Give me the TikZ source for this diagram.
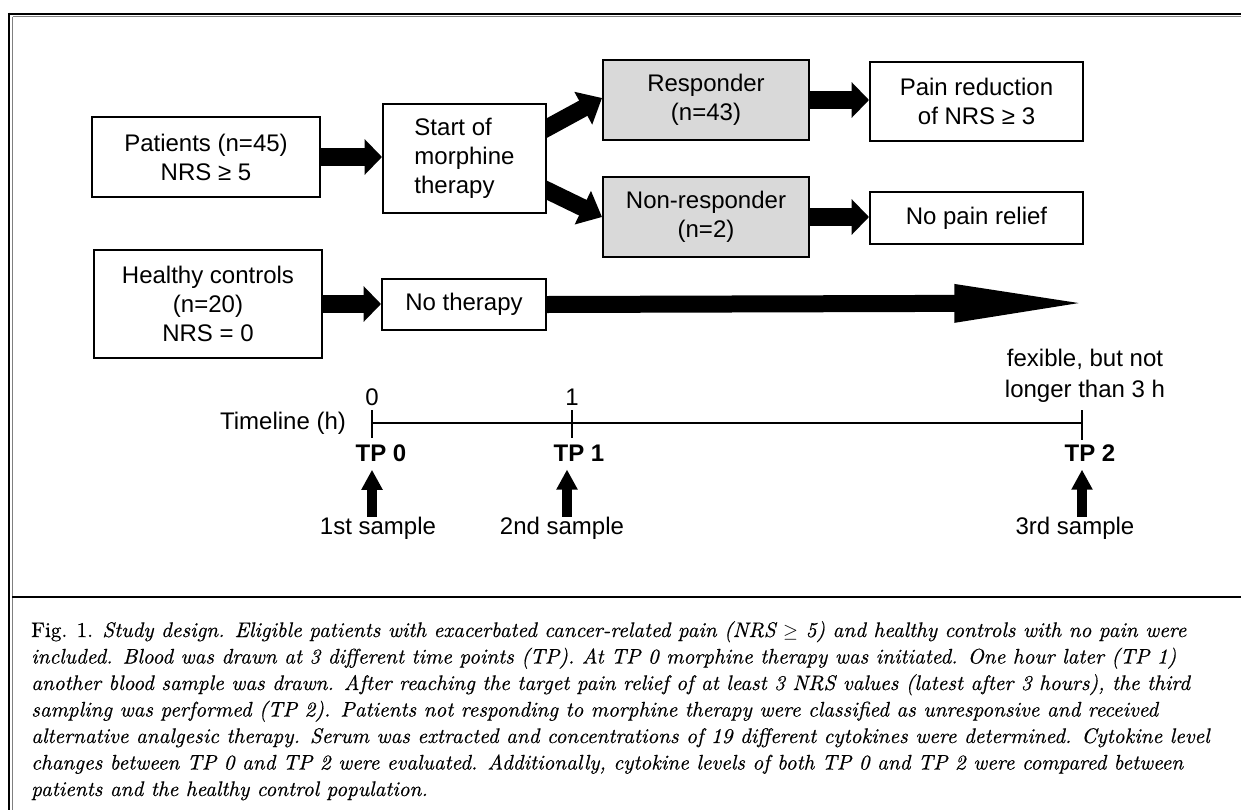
\documentclass[tikz,border=0pt]{standalone}
\usepackage{fontspec}
\newfontfamily\arialfont{Liberation Sans}
\newfontfamily\capfont{lmroman10-regular.otf}[ItalicFont=lmroman10-italic.otf, FakeBold=0.5]
\usetikzlibrary{arrows.meta,calc}
\pgfdeclarelayer{bg}
\pgfsetlayers{bg,main}
\definecolor{boxgray}{RGB}{217,217,217}
\begin{document}
\begin{tikzpicture}[x=0.75pt,y=-0.75pt,
  every node/.style={inner sep=0pt},
  sans/.style={font=\arialfont\fontsize{18}{21.75}\selectfont},
  box/.style={sans, draw=black, line width=1.5pt, align=center, fill=white},
  gbox/.style={box, fill=boxgray},
  fatarrow/.style={line width=13pt, -{Triangle[length=13pt,width=26pt]}},
  diagarrow/.style={line width=13pt, -{Triangle[length=16pt,width=27pt]}},
  longarrow/.style={line width=12.75pt, -{Triangle[length=107pt,width=25pt]}},
  uparrow/.style={line width=7pt, -{Triangle[length=15pt,width=15pt]}},
  tickline/.style={line width=1.5pt},
  lbl/.style={sans},
  tplbl/.style={font=\arialfont\bfseries\fontsize{18}{21.75}\selectfont},
  captext/.style={anchor=base west, font=\capfont\fontsize{15.8}{20}\selectfont}
]
\useasboundingbox (0,0) rectangle (1241,810);

% boxes
\node[box, minimum width=171pt, minimum height=60pt] (patients) at (206,157) {Patients (n=45)\\NRS ≥ 5};
\node[box, minimum width=122.25pt, minimum height=81.75pt, align=left] (start) at (464.5,158.5) {Start of\\morphine\\therapy};
\node[gbox, minimum width=154.5pt, minimum height=60pt] (resp) at (706,100) {Responder\\(n=43)};
\node[box, minimum width=159.75pt, minimum height=59.25pt] (pain) at (976.5,101.5) {Pain reduction\\of NRS ≥ 3};
\node[gbox, minimum width=154.5pt, minimum height=60pt] (nonresp) at (706,217) {Non-responder\\(n=2)};
\node[box, minimum width=159.75pt, minimum height=39pt] (nopain) at (976.5,218) {No pain relief};
\node[box, minimum width=171pt, minimum height=81pt] (healthy) at (208,304) {Healthy controls\\(n=20)\\NRS = 0};
\node[box, minimum width=123pt, minimum height=38.25pt] (nother) at (464,304.5) {No therapy};
\coordinate (bigtip) at (1097,303);

\begin{pgfonlayer}{bg}
\fill[white] (0,0) rectangle (1241,810);
\draw[fatarrow] (patients.east) -- (patients.east -| start.west);
\draw[fatarrow] (healthy.east) -- (healthy.east -| nother.west);
\draw[fatarrow] (resp.east) -- (resp.east -| pain.west);
\draw[fatarrow] (nonresp.east) -- (nonresp.east -| nopain.west);
\draw[diagarrow] ($(start.east)+(-12,-24)$) -- ($(resp.west)+(0,-2)$);
\draw[diagarrow] ($(start.east)+(-12,26)$) -- (nonresp.west);
\draw[longarrow] (nother.east) -- (bigtip);
\end{pgfonlayer}

% frame
\draw[line width=1.9pt] (9,12.5) -- (9,810);
\draw[line width=1.5pt] (7.8,13.5) -- (1241,13.5);
\draw[line width=0.75pt, gray] (12.5,16.5) -- (12.5,810);
\draw[line width=0.75pt, gray] (12.5,16.5) -- (1241,16.5);
\draw[line width=1.9pt] (12,597) -- (1241,597);

% timeline
\coordinate (t0) at (372,423);
\coordinate (t1) at (572,423);
\coordinate (t2) at (1082,423);
\draw[tickline] (t0) -- (t2);
\draw[tickline] ($(t0)+(0,-13)$) -- ($(t0)+(0,15)$);
\draw[tickline] ($(t1)+(0,-13)$) -- ($(t1)+(0,15)$);
\draw[tickline] ($(t2)+(0,-13)$) -- ($(t2)+(0,17)$);
\node[lbl] (tl) at (283,423) {Timeline (h)};
\node[lbl] (h0) at (372,397) {0};
\node[lbl] (h1) at (572,397) {1};
\node[lbl, align=center, font=\arialfont\fontsize{18}{23.25}\selectfont] (flex) at (1085,376) {fexible, but not\\longer than 3 h};
\node[tplbl] (tp0) at (381,453) {TP 0};
\node[tplbl] (tp1) at (579,453) {TP 1};
\node[tplbl] (tp2) at (1090,453) {TP 2};
\node[lbl] (s1) at (378,528) {1st sample};
\node[lbl] (s2) at (562,528) {2nd sample};
\node[lbl] (s3) at (1075,528) {3rd sample};
\coordinate (x0) at (372,0);
\coordinate (x1) at (567,0);
\coordinate (x2) at (1082,0);
\draw[uparrow] (s1.north -| x0) -- ($(tp0.south -| x0)+(0,8)$);
\draw[uparrow] (s2.north -| x1) -- ($(tp1.south -| x1)+(0,8)$);
\draw[uparrow] (s3.north -| x2) -- ($(tp2.south -| x2)+(0,8)$);

% caption
\node[captext] (c1) at (31,637) {Fig. 1. \textit{Study design. Eligible patients with exacerbated cancer-related pain (NRS $\geq$ 5) and healthy controls with no pain were}};
\node[captext] (c2) at (31,663.5) {\textit{included. Blood was drawn at 3 different time points (TP). At TP 0 morphine therapy was initiated. One hour later (TP 1)}};
\node[captext] (c3) at (31,690) {\textit{another blood sample was drawn. After reaching the target pain relief of at least 3 NRS values (latest after 3 hours), the third}};
\node[captext] (c4) at (31,716.5) {\textit{sampling was performed (TP 2). Patients not responding to morphine therapy were classified as unresponsive and received}};
\node[captext] (c5) at (31,743) {\textit{alternative analgesic therapy. Serum was extracted and concentrations of 19 different cytokines were determined. Cytokine level}};
\node[captext] (c6) at (31,769.5) {\textit{changes between TP 0 and TP 2 were evaluated. Additionally, cytokine levels of both TP 0 and TP 2 were compared between}};
\node[captext] (c7) at (31,796) {\textit{patients and the healthy control population.}};
\end{tikzpicture}
\end{document}
